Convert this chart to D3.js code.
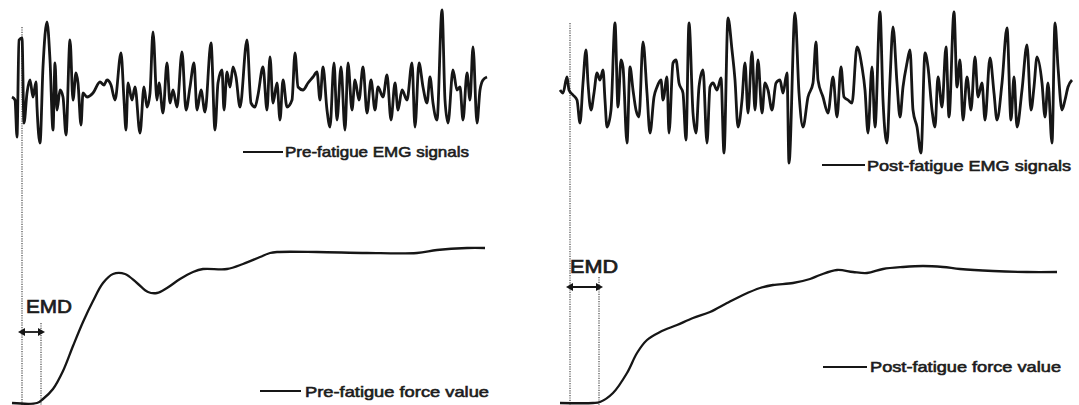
<!DOCTYPE html>
<html>
<head>
<meta charset="utf-8">
<script src="https://cdn.jsdelivr.net/npm/d3@7/dist/d3.min.js"></script>
<style>
  html, body { margin: 0; padding: 0; background: #fff; }
  svg { display: block; }
  text { font-family: "Liberation Sans", Arial, sans-serif; fill: #1c1c1c; }
</style>
</head>
<body>
<svg id="chart" width="1079" height="405"></svg>
<script>
// ---- Pre-fatigue trial: EMG (time in ms, amplitude in a.u.) ----
const preEmgTime = [
  0, 3, 5, 7, 10, 12, 15, 18, 21, 24,
  25, 28, 31, 35, 38, 41, 43, 45, 48, 51,
  54, 58, 61, 64, 66, 69, 71, 75, 81, 88,
  92, 95, 99, 103, 109, 112, 114, 116, 120, 123,
  128, 132, 135, 138, 141, 145, 147, 151, 155, 158,
  161, 165, 170, 174, 178, 182, 185, 189, 193, 199,
  203, 206, 210, 212, 215, 218, 221, 224, 228, 235,
  239, 243, 246, 251, 255, 258, 261, 265, 268, 271,
  275, 280, 283, 286, 291, 296, 301, 305, 308, 311,
  315, 318, 322, 325, 329, 333, 336, 340, 343, 347,
  351, 355, 359, 363, 366, 371, 375, 379, 383, 386,
  390, 395, 400, 403, 407, 411, 415, 418, 421, 425,
  430, 433, 436, 441, 445, 448, 451, 455, 458, 461,
  465, 468, 471, 475
];
const preEmgAmp = [
  -2, -5, -42, 55, 57, -28, 2, 15, -2, 13,
  -12, -48, 28, 73, 35, -35, 32, -15, 5, -2,
  -40, 55, -5, 22, 12, -30, 2, -2, 2, 13,
  10, 15, 10, -5, 42, -5, -35, 12, -5, 8,
  -38, 8, -12, 2, 63, -5, 12, -18, 32, -8,
  5, -12, 43, -15, 8, 32, -15, 5, -17, 52,
  -35, 12, 25, -15, 23, 8, 28, 18, -12, 55,
  -8, -12, 0, 28, -15, 38, -8, 12, -25, 15,
  -12, -5, 42, 8, 5, 12, 18, 23, -5, 28,
  -15, -32, 32, -25, 28, -35, 32, -15, 15, -5,
  28, -18, 15, -15, 8, -2, 20, -25, 12, -15,
  5, -5, 32, -32, 32, 8, -8, 18, -8, -25,
  85, -5, -28, 25, 5, 8, -25, 22, -5, 48,
  -28, 5, 15, 18
];

// ---- Pre-fatigue trial: force ----
const preForceTime  = [0, 25, 31, 41, 51, 61, 71, 81, 91, 101, 113, 125, 136, 145, 155, 168, 181, 191, 215, 231, 248, 258, 265, 305, 355, 405, 425, 455, 473];
const preForceValue = [0, 0, 4, 14, 32, 57, 81, 102, 120, 129, 129, 120, 111, 110, 115, 124, 131, 134, 134, 139, 146, 150, 151, 151, 150, 150, 153, 155, 155];

// ---- Post-fatigue trial: EMG ----
const postEmgTime = [
  0, 3, 7, 9, 13, 17, 20, 23, 26, 28,
  31, 34, 37, 40, 43, 45, 47, 51, 55, 58,
  61, 63, 67, 70, 73, 76, 79, 83, 87, 90,
  94, 97, 101, 103, 107, 109, 113, 116, 119, 123,
  126, 129, 133, 136, 139, 143, 147, 150, 153, 157,
  161, 164, 168, 172, 175, 178, 182, 185, 188, 192,
  195, 198, 202, 205, 208, 212, 216, 220, 223, 227,
  229, 235, 239, 243, 248, 253, 256, 258, 263, 268,
  273, 277, 281, 284, 288, 292, 297, 302, 305, 308,
  312, 315, 320, 323, 327, 330, 333, 337, 340, 343,
  347, 350, 353, 357, 361, 365, 368, 372, 375, 378,
  382, 386, 389, 394, 397, 400, 403, 407, 411, 415,
  418, 422, 425, 430, 434, 437, 442, 447, 451, 454,
  457, 462, 467, 471, 474, 477, 482, 485, 488, 492,
  495, 498, 502, 505, 508, 512
];
const postEmgAmp = [
  5, 2, 18, 5, 0, -5, -28, 12, 45, 12,
  -15, 2, 22, 15, 25, -5, -32, -15, 72, -12,
  35, 28, -48, 28, 5, -15, -22, 53, 2, -38,
  -2, 8, 15, -5, 18, -38, 32, 35, 12, 2,
  -45, 72, -18, -38, 8, 25, -48, 8, 12, 5,
  17, -58, 77, 45, 15, -32, -5, 32, -18, 43,
  -15, 35, -18, 12, 5, -15, 12, 15, 2, 22,
  -68, 82, 2, -32, -2, 12, 53, 15, -2, -18,
  18, -22, 28, -2, -5, -8, 48, 28, 5, -38,
  28, -32, 83, -5, -48, 15, 68, 12, -22, 8,
  32, 45, -15, -32, -58, 42, 28, -15, -32, 18,
  -12, 48, -22, 83, 8, 35, -25, 18, -15, 38,
  -2, 12, -25, 37, 2, -25, 12, 67, -25, 18,
  -32, 5, 50, -15, 8, 38, 12, -22, 12, -48,
  72, 28, -15, -5, 8, 15
];

// ---- Post-fatigue trial: force ----
const postForceTime  = [0, 33, 40, 53, 67, 77, 87, 100, 117, 133, 150, 167, 183, 200, 213, 233, 250, 260, 277, 293, 307, 323, 343, 363, 383, 400, 433, 467, 497];
const postForceValue = [0, 0, 1, 10, 30, 50, 63, 71, 78, 85, 91, 100, 108, 115, 118, 120, 124, 128, 133, 131, 130, 134, 136, 137, 136, 134, 132, 131, 131];

// ---- Onsets (ms): EMG onset and force onset; the gap is the EMD ----
const preOnsets  = [10, 29];
const postOnsets = [10, 39];

// ---- Legend labels ----
const preLabels  = ["Pre-fatigue EMG signals", "Pre-fatigue force value"];
const postLabels = ["Post-fatigue EMG signals", "Post-fatigue force value"];
const emdLabel = "EMD";

const svg = d3.select("#chart");
const ink = "#161616";

// shared vertical scales
const yEmg = d3.scaleLinear().domain([-100, 100]).range([195, -5]);
const yForce = d3.scaleLinear().domain([0, 160]).range([403, 243]);

const panels = [
  {
    x: d3.scaleLinear().domain([0, 475]).range([12, 487]),
    emgT: preEmgTime, emgA: preEmgAmp,
    fT: preForceTime, fV: preForceValue,
    onsets: preOnsets, labels: preLabels,
    onsetTop: 27, forceOnsetTop: 323,
    emd: { y: 332, textX: 26, textY: 313, textW: 46, size: 18 },
    legEmg: { x1: 243, x2: 283, y: 152, tx: 285, ty: 157, tw: 184 },
    legForce: { x1: 260, x2: 301, y: 391, tx: 305, ty: 397, tw: 184 }
  },
  {
    x: d3.scaleLinear().domain([0, 512]).range([560, 1072]),
    emgT: postEmgTime, emgA: postEmgAmp,
    fT: postForceTime, fV: postForceValue,
    onsets: postOnsets, labels: postLabels,
    onsetTop: 23, forceOnsetTop: 277,
    emd: { y: 287, textX: 570, textY: 273, textW: 48, size: 17.5 },
    legEmg: { x1: 822, x2: 865, y: 165, tx: 867, ty: 171, tw: 204 },
    legForce: { x1: 823, x2: 867, y: 367, tx: 870, ty: 372, tw: 191 }
  }
];

panels.forEach(p => {
  const g = svg.append("g");

  // dotted onset markers
  const dotted = (xv, top) => g.append("line")
    .attr("x1", p.x(xv)).attr("x2", p.x(xv))
    .attr("y1", top).attr("y2", 405)
    .attr("stroke", "#6e6e6e").attr("stroke-width", 1.5)
    .attr("stroke-dasharray", "1.2,1.2");
  dotted(p.onsets[0], p.onsetTop);
  dotted(p.onsets[1], p.forceOnsetTop);

  // EMG trace
  const emg = d3.zip(p.emgT, p.emgA);
  g.append("path")
    .datum(emg)
    .attr("fill", "none")
    .attr("stroke", ink)
    .attr("stroke-width", 2.8)
    .attr("stroke-linejoin", "round")
    .attr("d", d3.line().x(d => p.x(d[0])).y(d => yEmg(d[1])).curve(d3.curveMonotoneX));

  // force trace
  const force = d3.zip(p.fT, p.fV);
  g.append("path")
    .datum(force)
    .attr("fill", "none")
    .attr("stroke", ink)
    .attr("stroke-width", 2.3)
    .attr("d", d3.line().x(d => p.x(d[0])).y(d => yForce(d[1])).curve(d3.curveCatmullRom.alpha(0.5)));

  // EMD double arrow
  const xa = p.x(p.onsets[0]), xb = p.x(p.onsets[1]);
  const ay = p.emd.y;
  g.append("line")
    .attr("x1", xa - 2).attr("x2", xb + 2).attr("y1", ay).attr("y2", ay)
    .attr("stroke", ink).attr("stroke-width", 1.8);
  [[xa - 4, 1], [xb + 4, -1]].forEach(([tip, dir]) => {
    g.append("path")
      .attr("d", `M${tip},${ay} L${tip + dir * 7},${ay - 4} L${tip + dir * 7},${ay + 4} Z`)
      .attr("fill", ink);
  });
  g.append("text")
    .attr("x", p.emd.textX).attr("y", p.emd.textY)
    .attr("font-size", p.emd.size)
    .attr("textLength", p.emd.textW).attr("lengthAdjust", "spacingAndGlyphs")
    .attr("stroke", "#1c1c1c").attr("stroke-width", 0.7)
    .text(emdLabel);

  // legend entries
  [[p.legEmg, p.labels[0]], [p.legForce, p.labels[1]]].forEach(([l, label]) => {
    g.append("line")
      .attr("x1", l.x1).attr("x2", l.x2).attr("y1", l.y).attr("y2", l.y)
      .attr("stroke", ink).attr("stroke-width", 2.2);
    g.append("text")
      .attr("x", l.tx).attr("y", l.ty)
      .attr("font-size", 15)
      .attr("textLength", l.tw).attr("lengthAdjust", "spacingAndGlyphs")
      .attr("stroke", "#1c1c1c").attr("stroke-width", 0.6)
      .text(label);
  });
});
</script>
</body>
</html>
